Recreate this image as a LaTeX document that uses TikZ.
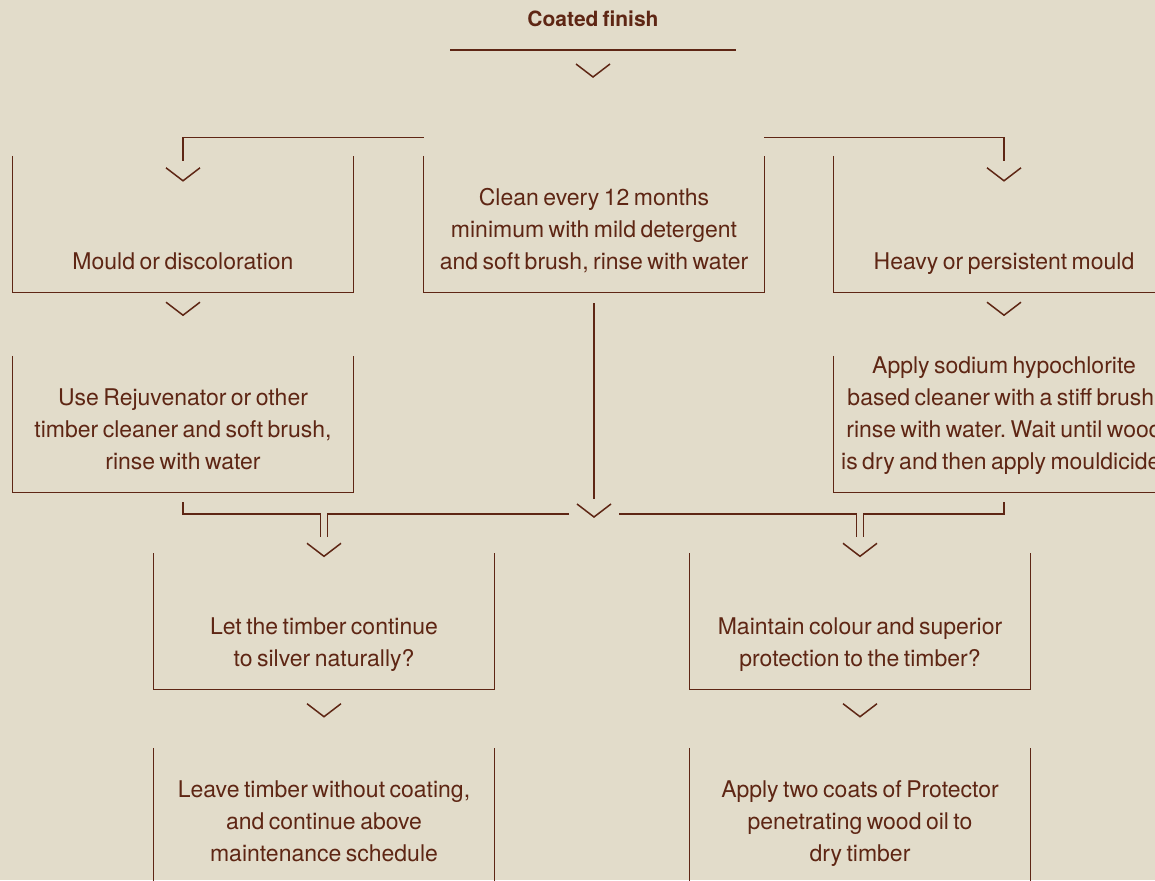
\documentclass[tikz,border=0pt]{standalone}
\usepackage{fontspec}
\setmainfont{TeX Gyre Heros}[WordSpace=0.7]
\frenchspacing

\definecolor{paper}{HTML}{E2DCCA}
\definecolor{umber}{HTML}{5E2614}

% text of one open box, set at its bottom
\newcommand{\cellbody}[1]{\parbox[c][136pt][b]{340pt}{\centering\fontsize{23pt}{32pt}\selectfont #1\strut\par\vspace*{13.4pt}}}
% open v marker, #1 is its tip
\newcommand{\chev}[1]{\draw[chevline] (#1) +(-17,-13) -- (#1) -- +(17,-13);}
% left, bottom and right side of a box
\newcommand{\ucell}[1]{\draw[link] (#1.north west) |- (#1.south east) -- (#1.north east);}

\tikzset{
  link/.style={draw=umber, line width=1.2pt},
  chevline/.style={draw=umber, line width=1.5pt},
  cell/.style={inner sep=0pt, text=umber},
}

\begin{document}
\begin{tikzpicture}[x=1pt, y=-1pt]
  \fill[paper, use as bounding box] (0,0) rectangle (1155,880);
  \clip (0,0) rectangle (1155,880);

  \node[text=umber, anchor=base, font=\bfseries\fontsize{21pt}{21pt}\selectfont] (title) at (593,27) {Coated finish};
  \draw[link] ([xshift=-143pt,yshift=-23pt]title.base) -- ([xshift=143pt,yshift=-23pt]title.base);
  \chev{[yshift=-50pt]title.base}

  % first row
  \node[cell] (mould) at (183,224) {\cellbody{Mould or discoloration}};
  \node[cell] (clean) at (594,224) {\cellbody{Clean every 12 months\\ minimum with mild detergent\\ and soft brush, rinse with water}};
  \node[cell] (heavy) at (1004,224) {\cellbody{Heavy or persistent mould}};

  % second row
  \node[cell] (rejuv) at (183,424) {\cellbody{Use Rejuvenator or other\\ timber cleaner and soft brush,\\ rinse with water}};
  \node[cell] (hypo) at (1004,424) {\cellbody{Apply sodium hypochlorite\\ based cleaner with a stiff brush,\\ rinse with water. Wait until wood\\ is dry and then apply mouldicide.}};

  % questions
  \node[cell] (silver) at (324,621.5) {\cellbody{Let the timber continue\\ to silver naturally?}};
  \node[cell] (colour) at (860,621.5) {\cellbody{Maintain colour and superior\\ protection to the timber?}};

  % answers
  \node[cell] (leave) at (324,816) {\cellbody{Leave timber without coating,\\ and continue above\\ maintenance schedule}};
  \node[cell] (protect) at (860,816) {\cellbody{Apply two coats of Protector\\ penetrating wood oil to\\ dry timber}};

  \foreach \c in {mould,clean,heavy,rejuv,hypo,silver,colour,leave,protect}{
    \ucell{\c}
  }

  % branches off the top
  \draw[link] ([yshift=18pt]clean.north west) -| ([yshift=-5pt]mould.north);
  \draw[link] ([yshift=18pt]clean.north east) -| ([yshift=-5pt]heavy.north);
  \chev{[yshift=-25pt]mould.north}
  \chev{[yshift=-25pt]heavy.north}
  \chev{[yshift=-23pt]mould.south}
  \chev{[yshift=-23pt]heavy.south}

  % everything meets here
  \coordinate (merge) at (594,514);
  \draw[link] ([yshift=-11pt]clean.south) -- ([yshift=15pt]merge);
  \chev{[yshift=-3pt]merge}
  \draw[link] ([yshift=-10pt]rejuv.south) |- ([xshift=-3.5pt]silver.north |- merge) -- ([xshift=-3.5pt,yshift=16pt]silver.north);
  \draw[link] ([xshift=-25pt]merge) -| ([xshift=3.5pt,yshift=16pt]silver.north);
  \draw[link] ([xshift=25pt]merge) -| ([xshift=-3.5pt,yshift=16pt]colour.north);
  \draw[link] ([yshift=-10pt]hypo.south) |- ([xshift=3.5pt]colour.north |- merge) -- ([xshift=3.5pt,yshift=16pt]colour.north);
  \chev{[yshift=-3pt]silver.north}
  \chev{[yshift=-3pt]colour.north}
  \chev{[yshift=-27pt]silver.south}
  \chev{[yshift=-27pt]colour.south}
\end{tikzpicture}
\end{document}
